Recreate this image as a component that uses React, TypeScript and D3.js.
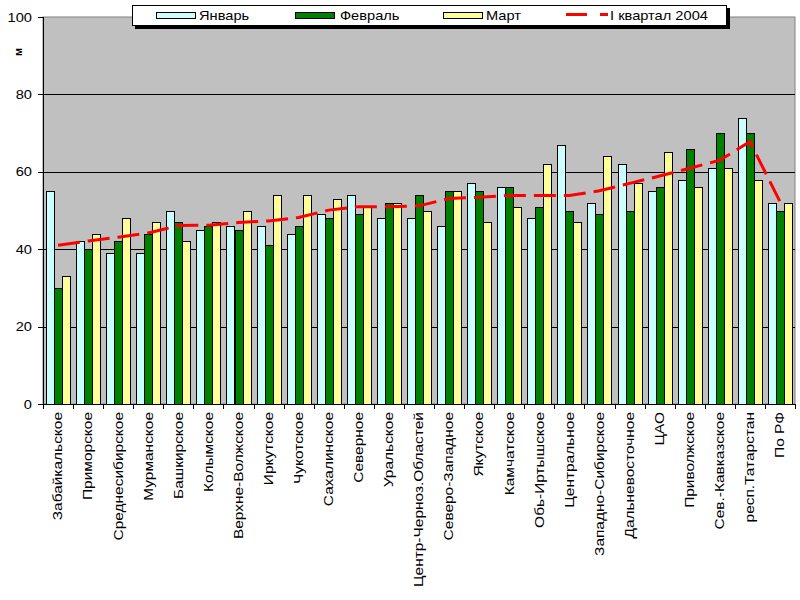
import React from "react";
import * as d3 from "d3";

const categories = [
  "Забайкальское", "Приморское", "Среднесибирское", "Мурманское", "Башкирское",
  "Колымское", "Верхне-Волжское", "Иркутское", "Чукотское", "Сахалинское",
  "Северное", "Уральское", "Центр-Черноз.Областей", "Северо-Западное", "Якутское",
  "Камчатское", "Обь-Иртышское", "Центральное", "Западно-Сибирское", "Дальневосточное",
  "ЦАО", "Приволжское", "Сев.-Кавказское", "респ.Татарстан", "По РФ",
];
const january = [55, 42, 39, 39, 50, 45, 46, 46, 44, 49, 54, 48, 48, 46, 57, 56, 48, 67, 52, 62, 55, 58, 61, 74, 52];
const february = [30, 40, 42, 44, 47, 46, 45, 41, 46, 48, 49, 52, 54, 55, 55, 56, 51, 50, 49, 50, 56, 66, 70, 70, 50];
const march = [33, 44, 48, 47, 42, 47, 50, 54, 54, 53, 51, 52, 50, 55, 47, 51, 62, 47, 64, 57, 65, 56, 61, 58, 52];
const quarter = [41, 42.1, 43.1, 44.2, 46.1, 46.2, 46.9, 47.3, 48.2, 50.1, 51, 51, 51.2, 53.1, 53.4, 53.9, 53.9, 53.9, 55.1, 57, 58.9, 60.9, 63, 67.8, 52.3];
const yTicks = [0, 20, 40, 60, 80, 100];
const seriesNames = ["Январь", "Февраль", "Март"];
const lineName = "I квартал 2004";
const axisTitle = "м";

const colors = ["#CCFFFF", "#008000", "#FFFF99"];
const FONT = "'Liberation Sans', Arial, sans-serif";

export default function App() {
  const left = 43, right = 795, top = 17, bottom = 404;
  const x = d3.scaleBand<string>().domain(categories).range([left, right]).paddingInner(0).paddingOuter(0);
  const inner = d3.scaleBand<string>().domain(seriesNames).range([0, x.bandwidth()]).paddingInner(0).paddingOuter(0.375);
  const y = d3.scaleLinear().domain([0, 100]).range([bottom, top]);
  const series = [january, february, march];

  const line = d3.line<number>()
    .x((_, i) => (x(categories[i]) as number) + x.bandwidth() / 2)
    .y((d) => y(d));

  const sx = 1.22;
  const sxLabel = 1.29;

  const legendItems = [
    { name: seriesNames[0], sw: 156, tx: 199 },
    { name: seriesNames[1], sw: 295, tx: 340 },
    { name: seriesNames[2], sw: 443, tx: 486 },
  ];

  return (
    <svg width={800} height={600} style={{ position: "absolute", left: 0, top: 0, background: "#fff" }} fontFamily={FONT}>
      <rect x={0} y={0} width={800} height={600} fill="#fff" />
      {/* plot area */}
      <rect x={left} y={top} width={right - left} height={bottom - top} fill="#C0C0C0" stroke="#808080" strokeWidth={1} />
      {yTicks.filter((t) => t > 0 && t < 100).map((t) => (
        <line key={t} x1={left} x2={right} y1={Math.round(y(t)) + 0.5} y2={Math.round(y(t)) + 0.5} stroke="#000" strokeWidth={1} />
      ))}
      {/* bars */}
      {series.map((vals, si) =>
        vals.map((v, i) => {
          const bx = (x(categories[i]) as number) + (inner(seriesNames[si]) as number);
          return (
            <rect key={si + "-" + i} x={Math.round(bx) + 0.5} y={Math.round(y(v)) + 0.5} width={Math.round(inner.bandwidth())} height={Math.round(y(0)) - Math.round(y(v))}
              fill={colors[si]} stroke="#000" strokeWidth={1} />
          );
        })
      )}
      {/* quarter line */}
      <path d={line(quarter) as string} fill="none" stroke="#FF0000" strokeWidth={3} strokeDasharray="22 8" />
      {/* axes */}
      <line x1={left + 0.5} x2={left + 0.5} y1={top} y2={bottom} stroke="#000" />
      <line x1={left} x2={right} y1={bottom + 0.5} y2={bottom + 0.5} stroke="#000" />
      {yTicks.map((t) => (
        <g key={t}>
          <line x1={left - 5} x2={left} y1={Math.round(y(t)) + 0.5} y2={Math.round(y(t)) + 0.5} stroke="#000" />
          <text transform={`translate(32,${y(t) + 4.5}) scale(${sx},1)`} textAnchor="end" fontSize={12} fill="#000">{t}</text>
        </g>
      ))}
      {d3.range(categories.length + 1).map((i) => {
        const tx = Math.round(left + i * x.step()) + 0.5;
        return <line key={i} x1={tx} x2={tx} y1={bottom} y2={bottom + 5} stroke="#000" />;
      })}
      {categories.map((c) => {
        const cx = (x(c) as number) + x.bandwidth() / 2;
        return (
          <text key={c} transform={`translate(${cx},412) rotate(-90) scale(${sxLabel},1)`} textAnchor="end" dy="0.36em" fontSize={12} fill="#000">{c}</text>
        );
      })}
      <text transform={`translate(18.5,52) rotate(-90)`} textAnchor="middle" dy="0.36em" fontSize={11} fontWeight="bold" fill="#000">{axisTitle}</text>
      {/* legend */}
      <rect x={135} y={8} width={595} height={21} fill="#000" />
      <rect x={132.5} y={5.5} width={594} height={20} fill="#fff" stroke="#000" strokeWidth={1} />
      {legendItems.map((it, i) => (
        <g key={it.name}>
          <rect x={it.sw + 0.5} y={12.5} width={39} height={6} fill={colors[i]} stroke="#000" />
          <text transform={`translate(${it.tx},20) scale(${sx},1)`} fontSize={12} fill="#000">{it.name}</text>
        </g>
      ))}
      <line x1={566} x2={608} y1={14.5} y2={14.5} stroke="#FF0000" strokeWidth={3} strokeDasharray="21 13" />
      <text transform={`translate(610,20) scale(${sx},1)`} fontSize={12} fill="#000">{lineName}</text>
    </svg>
  );
}
